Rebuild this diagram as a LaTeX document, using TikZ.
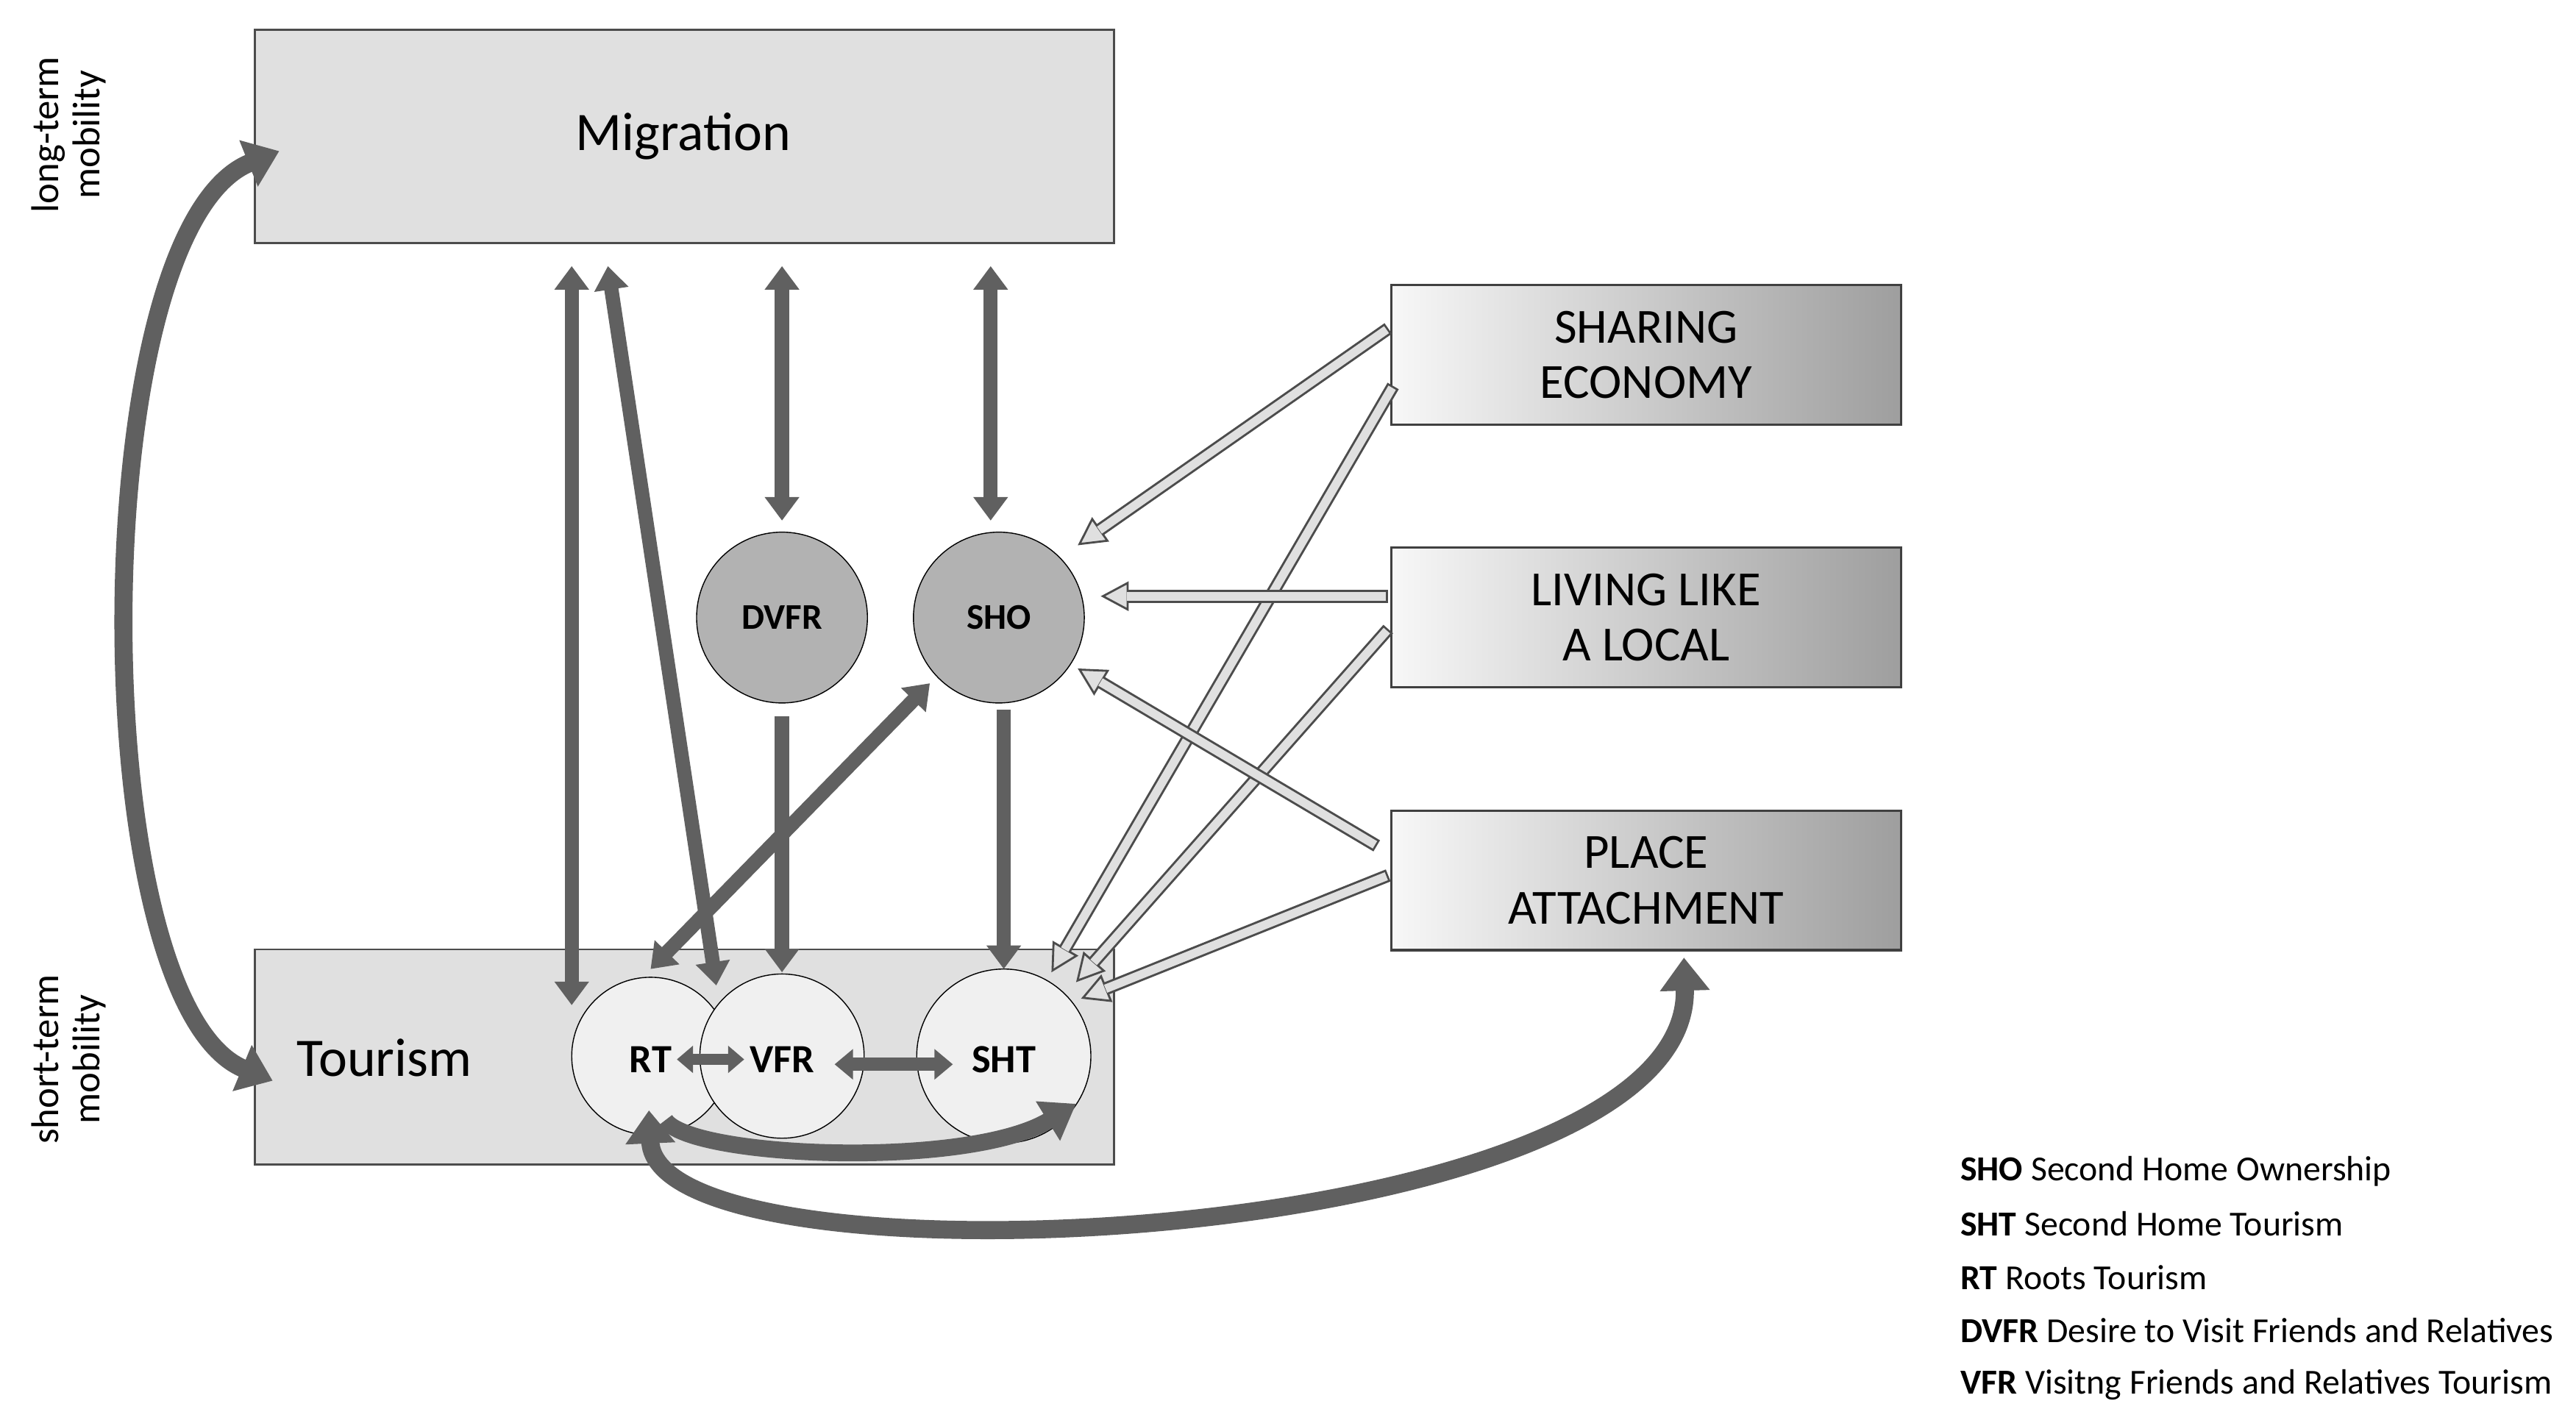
\documentclass[tikz,border=0pt]{standalone}
\usepackage{fontspec}
\setmainfont{Carlito}
\usetikzlibrary{arrows.meta}
\definecolor{ar}{HTML}{606060}
\tikzset{
  x=0.022334cm, y=-0.022334cm,
  bx/.style={draw=black!70, fill=black!12, line width=0.8pt},
  gb/.style={draw=black!75, line width=0.9pt, left color=black!3, right color=black!38, minimum width=310*0.022334cm, minimum height=85*0.022334cm, align=center, font=\fontsize{19}{21.5}\selectfont},
  circD/.style={circle, draw=black, fill=black!30, minimum size=104*0.022334cm, font=\bfseries\fontsize{14}{16}\selectfont, inner sep=0pt},
  circL/.style={circle, draw=black, fill=black!6, inner sep=0pt, font=\bfseries\fontsize{15}{16}\selectfont},
  a/.style={draw=ar, line width=5.5pt, -{Triangle[length=0.32cm,width=0.45cm]}},
  aa/.style={a, {Triangle[length=0.32cm,width=0.45cm]}-{Triangle[length=0.32cm,width=0.45cm]}},
  big/.style={draw=ar, line width=7pt, {Triangle[length=0.45cm,width=0.65cm]}-{Triangle[length=0.45cm,width=0.65cm]}},
  hout/.style={draw=black!70, line width=5pt, -{Triangle[open,fill=black!12,length=0.38cm,width=0.4cm,line width=0.8pt]}},
  hin/.style={draw=black!12, line width=3.3pt, shorten >=0.36cm, shorten <=0.8pt},
}
\newcommand\hollowarr[2]{\draw[hout] (#1) -- (#2); \draw[hin] (#1) -- (#2);}
\begin{document}
\begin{tikzpicture}
\useasboundingbox (0,0) rectangle (1568,866);
% boxes
\draw[bx] (155,18) rectangle (678,148);
\node (mig) at (416,83) {\fontsize{21}{24}\selectfont Migration};
\draw[bx] (155,578) rectangle (678,709);
\node (tour) at (234,644) {\fontsize{21}{24}\selectfont Tourism};
\node[rotate=90, align=center, font=\fontsize{15}{16}\selectfont] (lt) at (42,82) {long-term\\mobility};
\node[rotate=90, align=center, font=\fontsize{15}{16}\selectfont] (st) at (42,645) {short-term\\mobility};
% circles
\node[circD] (dvfr) at (476,376) {DVFR};
\node[circD] (sho) at (608,376) {SHO};
\node[circL, minimum size=96*0.022334cm] (rt) at (396,643) {};
\node[circL, minimum size=100*0.022334cm] (vfr) at (476,643) {};
\node[circL, minimum size=106*0.022334cm] (sht) at (611,643) {};
\node[font=\bfseries\fontsize{15.5}{16}\selectfont] (rtl) at (396,645) {RT};
\node[font=\bfseries\fontsize{15.5}{16}\selectfont] (vfrl) at (476,645) {VFR};
\node[font=\bfseries\fontsize{15.5}{16}\selectfont] (shtl) at (611,645) {SHT};
% right boxes
\node[gb] (se) at (1002,216) {SHARING\\ECONOMY};
\node[gb] (ll) at (1002,376) {LIVING LIKE\\A LOCAL};
\node[gb] (pa) at (1002,536) {PLACE\\ATTACHMENT};
% coordinates
\coordinate (m1) at (348,162); \coordinate (t1) at (348,612);
\coordinate (m2) at (370,162); \coordinate (t2) at (436,600);
\coordinate (m3) at (476,162); \coordinate (d3) at (476,317);
\coordinate (m4) at (603,162); \coordinate (s4) at (603,317);
\coordinate (d5) at (476,436); \coordinate (v5) at (476,592);
\coordinate (s6) at (611,432); \coordinate (h6) at (611,590);
\coordinate (r7) at (396,590); \coordinate (s7) at (566,416);
\coordinate (r8) at (412,645); \coordinate (v8) at (453,645);
\coordinate (v9) at (508,648); \coordinate (h9) at (580,648);
\draw[aa] (m1) -- (t1);
\draw[aa] (m2) -- (t2);
\draw[aa] (m3) -- (d3);
\draw[aa] (m4) -- (s4);
\draw[a] (d5) -- (v5);
\draw[a] (s6) -- (h6);
\draw[aa] (r7) -- (s7);
\draw[aa, line width=4.5pt, {Triangle[length=0.22cm,width=0.36cm]}-{Triangle[length=0.22cm,width=0.36cm]}] (r8) -- (v8);
\draw[aa, line width=5pt, {Triangle[length=0.25cm,width=0.4cm]}-{Triangle[length=0.25cm,width=0.4cm]}] (v9) -- (h9);
% curves
\coordinate (c1) at (405,682); \coordinate (c2) at (655,672);
\draw[draw=ar, line width=6.5pt, -{Triangle[length=0.45cm,width=0.6cm]}] (c1) .. controls (420,705) and (590,712) .. (c2);
\coordinate (l1) at (170,92); \coordinate (l2) at (166,658);
\draw[big] (l1) .. controls (50,140) and (50,610) .. (l2);
\coordinate (b1) at (395,676); \coordinate (b2) at (1025,583);
\draw[big] (b1) .. controls (400,790) and (1030,760) .. (b2);
% hollow arrows
\coordinate (h1a) at (845,200); \coordinate (h1b) at (656,332);
\coordinate (h2a) at (848,235); \coordinate (h2b) at (640,592);
\coordinate (h3a) at (845,363); \coordinate (h3b) at (670,363);
\coordinate (h4a) at (845,383); \coordinate (h4b) at (655,598);
\coordinate (h5a) at (838,515); \coordinate (h5b) at (656,407);
\coordinate (h6a) at (845,533); \coordinate (h6b) at (658,608);
\hollowarr{h1a}{h1b}
\hollowarr{h2a}{h2b}
\hollowarr{h3a}{h3b}
\hollowarr{h4a}{h4b}
\hollowarr{h5a}{h5b}
\hollowarr{h6a}{h6b}
% legend
\begin{scope}[every node/.style={anchor=west, font=\fontsize{13.6}{16}\selectfont, inner sep=0pt}]
\node (g1) at (1193,713) {\textbf{SHO} Second Home Ownership};
\node (g2) at (1193,745) {\textbf{SHT} Second Home Tourism};
\node (g3) at (1193,778) {\textbf{RT} Roots Tourism};
\node (g4) at (1193,810) {\textbf{DVFR} Desire to Visit Friends and Relatives};
\node (g5) at (1193,843) {\textbf{VFR} Visitng Friends and Relatives Tourism};
\end{scope}
\end{tikzpicture}
\end{document}
